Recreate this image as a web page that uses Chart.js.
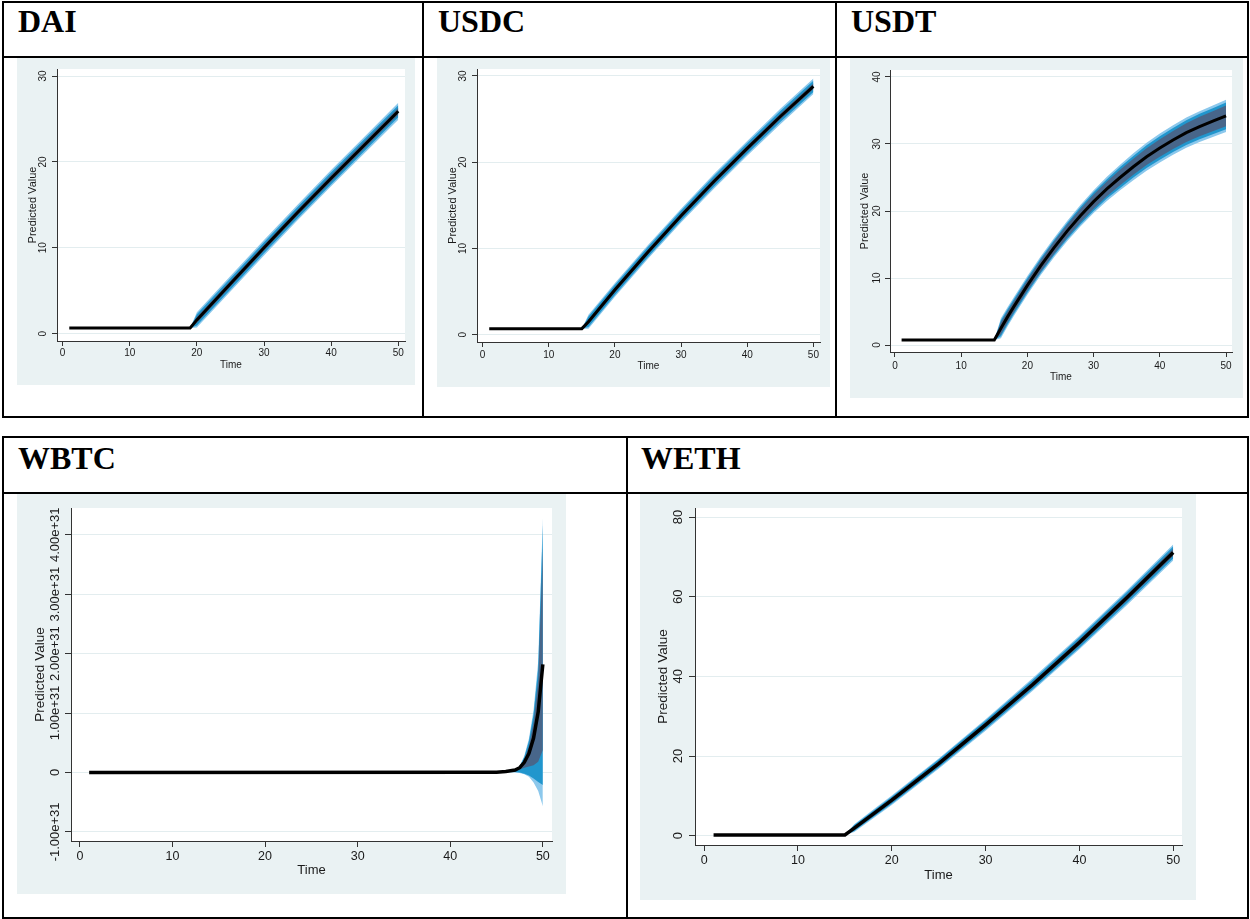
<!DOCTYPE html>
<html>
<head>
<meta charset="utf-8">
<script src="https://cdn.jsdelivr.net/npm/chart.js@4.4.0/dist/chart.umd.min.js"></script>
<style>
  body { margin: 0; width: 1250px; height: 919px; position: relative; overflow: hidden; background: #fff; }
  .rule { position: absolute; background: #000; }
  .head { position: absolute; font-family: "Liberation Serif", "Times New Roman", serif; font-weight: bold; font-size: 32px; line-height: 32px; color: #000; }
  .graph { position: absolute; background: #eaf2f3; }
  .graph canvas { display: block; }
</style>
</head>
<body>
<!-- top table -->
<div class="rule" style="left:2px;top:1px;width:1247px;height:2px"></div>
<div class="rule" style="left:2px;top:56px;width:1247px;height:2px"></div>
<div class="rule" style="left:2px;top:416px;width:1247px;height:2px"></div>
<div class="rule" style="left:2px;top:1px;width:2px;height:417px"></div>
<div class="rule" style="left:422px;top:1px;width:2px;height:417px"></div>
<div class="rule" style="left:835px;top:1px;width:2px;height:417px"></div>
<div class="rule" style="left:1247px;top:1px;width:2px;height:417px"></div>
<div class="head" style="left:18px;top:5px">DAI</div>
<div class="head" style="left:438px;top:5px">USDC</div>
<div class="head" style="left:851px;top:5px">USDT</div>
<!-- bottom table -->
<div class="rule" style="left:2px;top:436px;width:1247px;height:2px"></div>
<div class="rule" style="left:2px;top:492px;width:1247px;height:2px"></div>
<div class="rule" style="left:2px;top:917px;width:1247px;height:2px"></div>
<div class="rule" style="left:2px;top:436px;width:2px;height:483px"></div>
<div class="rule" style="left:626px;top:436px;width:2px;height:483px"></div>
<div class="rule" style="left:1247px;top:436px;width:2px;height:483px"></div>
<div class="head" style="left:18px;top:442px">WBTC</div>
<div class="head" style="left:641px;top:442px">WETH</div>

<div id="graphs"></div>

<script>
// ---- data ----
const xTicks = [0, 10, 20, 30, 40, 50];

const daiTime  = [1, 19, 20, 25, 30, 35, 40, 45, 50];
const daiMean  = [0.66, 0.66, 1.6, 5.8, 10.0, 14.1, 18.1, 22.0, 25.9];
const daiOuter = [0, 0, 0.9, 0.9, 0.9, 0.9, 0.95, 0.95, 1.0];
const daiMid   = [0, 0, 0.65, 0.65, 0.65, 0.65, 0.7, 0.7, 0.7];
const daiInner = [0, 0, 0.35, 0.35, 0.35, 0.35, 0.4, 0.4, 0.4];
const daiYTicks = [0, 10, 20, 30];

const usdcTime  = [1, 15, 16, 20, 25, 30, 35, 40, 45, 50];
const usdcMean  = [0.7, 0.7, 1.5, 5.2, 9.6, 13.8, 17.8, 21.6, 25.3, 28.8];
const usdcOuter = [0, 0, 0.8, 0.8, 0.8, 0.8, 0.85, 0.85, 0.9, 0.9];
const usdcMid   = [0, 0, 0.6, 0.6, 0.6, 0.6, 0.62, 0.62, 0.65, 0.65];
const usdcInner = [0, 0, 0.3, 0.3, 0.3, 0.3, 0.33, 0.33, 0.35, 0.35];
const usdcYTicks = [0, 10, 20, 30];

const usdtTime  = [1, 15, 16, 17, 18, 20, 22, 24, 26, 28, 30, 32, 34, 36, 38, 40, 42, 44, 46, 48, 50];
const usdtMean  = [0.75, 0.75, 2.5, 4.2, 5.8, 8.9, 11.8, 14.5, 17.0, 19.3, 21.4, 23.3, 25.0, 26.6, 28.1, 29.4, 30.6, 31.7, 32.6, 33.4, 34.2];
const usdtOuter = [0, 0, 1.5, 1.45, 1.4, 1.4, 1.4, 1.45, 1.5, 1.6, 1.7, 1.8, 1.9, 2.0, 2.1, 2.15, 2.2, 2.25, 2.3, 2.35, 2.4];
const usdtMid   = [0, 0, 1.2, 1.15, 1.1, 1.1, 1.1, 1.15, 1.2, 1.3, 1.4, 1.45, 1.55, 1.6, 1.7, 1.75, 1.8, 1.85, 1.9, 1.95, 2.0];
const usdtInner = [0, 0, 0.9, 0.85, 0.8, 0.8, 0.85, 0.9, 0.95, 1.0, 1.05, 1.1, 1.15, 1.2, 1.25, 1.3, 1.35, 1.4, 1.45, 1.5, 1.55];
const usdtYTicks = [0, 10, 20, 30, 40];

const wbtcTime    = [1, 44, 45, 46, 47, 47.5, 48, 48.5, 49, 49.5, 50];
const wbtcMean    = [0, 0.002e31, 0.005e31, 0.015e31, 0.04e31, 0.08e31, 0.17e31, 0.32e31, 0.58e31, 1.02e31, 1.82e31];
const wbtcOuterHi = [0, 0.003e31, 0.008e31, 0.025e31, 0.06e31, 0.11e31, 0.28e31, 0.57e31, 1.05e31, 1.87e31, 4.29e31];
const wbtcOuterLo = [0, 0.001e31, 0.002e31, 0.003e31, 0, -0.01e31, -0.03e31, -0.07e31, -0.17e31, -0.31e31, -0.57e31];
const wbtcMidHi   = [0, 0.003e31, 0.007e31, 0.023e31, 0.055e31, 0.1e31, 0.26e31, 0.53e31, 0.98e31, 1.75e31, 4.17e31];
const wbtcMidLo   = [0, 0.001e31, 0.003e31, 0.006e31, 0.01e31, 0, -0.02e31, -0.05e31, -0.1e31, -0.16e31, -0.21e31];
const wbtcInnerHi = [0, 0.003e31, 0.006e31, 0.02e31, 0.05e31, 0.09e31, 0.22e31, 0.45e31, 0.85e31, 1.55e31, 3.78e31];
const wbtcInnerLo = [0, 0.001e31, 0.004e31, 0.01e31, 0.03e31, 0.05e31, 0.08e31, 0.1e31, 0.12e31, 0.18e31, 0.38e31];
const wbtcYTicks  = [-1e31, 0, 1e31, 2e31, 3e31, 4e31];

const wethTime  = [1, 15, 16, 18, 20, 25, 30, 35, 40, 45, 50];
const wethMean  = [0.2, 0.2, 1.9, 5.4, 8.9, 18.1, 27.8, 37.9, 48.5, 59.6, 71.1];
const wethOuter = [0, 0, 1.0, 1.1, 1.2, 1.3, 1.45, 1.6, 1.7, 1.85, 2.0];
const wethMid   = [0, 0, 0.75, 0.8, 0.9, 1.0, 1.1, 1.2, 1.3, 1.4, 1.5];
const wethInner = [0, 0, 0.45, 0.5, 0.55, 0.6, 0.65, 0.7, 0.75, 0.8, 0.9];
const wethYTicks = [0, 20, 40, 60, 80];

// ---- styling ----
const FONT = '"Liberation Sans", Arial, Helvetica, sans-serif';
const AXIS = '#333';
const GRID = '#e3edef';
const TEXT = '#1a1a1a';
const bandColors = ['#48668a', '#2196cd', '#8cc8ec']; // inner, mid, outer

function spread(mean, half) {
  return { lo: mean.map((m, i) => m - half[i]), hi: mean.map((m, i) => m + half[i]) };
}

const panels = [
  { time: daiTime, mean: daiMean, yTicks: daiYTicks, fmt: 'plain',
    bands: [spread(daiMean, daiInner), spread(daiMean, daiMid), spread(daiMean, daiOuter)],
    box: [17, 58, 415, 385], plot: [57, 69, 405, 341], xr: [-0.83, 51.0], yr: [-0.86, 30.82],
    big: false, yLabGap: 13.7, yTitlePad: 9.7, xLabPad: 1.5, xTitlePad: 14 },
  { time: usdcTime, mean: usdcMean, yTicks: usdcYTicks, fmt: 'plain',
    bands: [spread(usdcMean, usdcInner), spread(usdcMean, usdcMid), spread(usdcMean, usdcOuter)],
    box: [437, 58, 830, 387], plot: [477, 69, 820, 342], xr: [-0.85, 51.0], yr: [-0.85, 30.81],
    big: false, yLabGap: 13.4, yTitlePad: 9.7, xLabPad: 2.7, xTitlePad: 14.6 },
  { time: usdtTime, mean: usdtMean, yTicks: usdtYTicks, fmt: 'plain',
    bands: [spread(usdtMean, usdtInner), spread(usdtMean, usdtMid), spread(usdtMean, usdtOuter)],
    box: [850, 58, 1243, 398], plot: [890, 70, 1232, 352], xr: [-0.75, 50.9], yr: [-1.04, 41.04],
    big: false, yLabGap: 12.7, yTitlePad: 8.8, xLabPad: 3, xTitlePad: 14.6 },
  { time: wbtcTime, mean: wbtcMean, yTicks: wbtcYTicks, fmt: 'exp',
    bands: [{ lo: wbtcInnerLo, hi: wbtcInnerHi }, { lo: wbtcMidLo, hi: wbtcMidHi }, { lo: wbtcOuterLo, hi: wbtcOuterHi }],
    box: [17, 494, 566, 894], plot: [71, 508, 552, 841], xr: [-0.96, 50.99], yr: [-1.153e31, 4.45e31],
    big: true, yLabGap: 15.5, yTitlePad: 15.1, xLabPad: 2, xTitlePad: 15.8 },
  { time: wethTime, mean: wethMean, yTicks: wethYTicks, fmt: 'plain',
    bands: [spread(wethMean, wethInner), spread(wethMean, wethMid), spread(wethMean, wethOuter)],
    box: [640, 494, 1196, 900], plot: [695, 508, 1182, 845], xr: [-0.98, 50.94], yr: [-2.34, 82.26],
    big: true, yLabGap: 16.7, yTitlePad: 14.7, xLabPad: 2, xTitlePad: 17.2 }
];

const plotBackground = {
  id: 'plotBackground',
  beforeDraw(chart) {
    const { ctx, chartArea: a } = chart;
    ctx.save();
    ctx.fillStyle = '#fff';
    ctx.fillRect(a.left, a.top, a.right - a.left, a.bottom - a.top);
    ctx.restore();
  }
};

// Stata writes the y labels turned on their side
const uprightTicks = {
  id: 'uprightTicks',
  afterDraw(chart, args, opts) {
    const s = chart.scales.y;
    const ctx = chart.ctx;
    ctx.save();
    ctx.font = opts.size + 'px ' + FONT;
    ctx.fillStyle = TEXT;
    ctx.textAlign = 'center';
    ctx.textBaseline = 'middle';
    s.ticks.forEach(t => {
      const label = opts.fmt === 'exp' && t.value !== 0 ? t.value.toExponential(2) : String(t.value);
      ctx.save();
      ctx.translate(s.right - opts.gap, s.getPixelForValue(t.value));
      ctx.rotate(-Math.PI / 2);
      ctx.fillText(label, 0, 0);
      ctx.restore();
    });
    ctx.restore();
  }
};

const holder = document.getElementById('graphs');

panels.forEach(p => {
  const [bl, bt, br, bb] = p.box;
  const [pl, pt, pr, pb] = p.plot;
  const div = document.createElement('div');
  div.className = 'graph';
  div.style.left = bl + 'px';
  div.style.top = bt + 'px';
  div.style.width = (br - bl) + 'px';
  div.style.height = (bb - bt) + 'px';
  const canvas = document.createElement('canvas');
  canvas.width = br - bl;
  canvas.height = bb - bt;
  div.appendChild(canvas);
  holder.appendChild(div);

  const tickSize = p.big ? 13 : 10;
  const xTickSize = p.big ? 12.5 : 10;
  const xTitleSize = p.big ? 13 : 10;
  const yTitleSize = p.big ? 13.5 : 11;
  const tickLen = p.big ? 6 : 5;

  const pts = arr => p.time.map((t, i) => ({ x: t, y: arr[i] }));
  const datasets = [{
    data: pts(p.mean), borderColor: '#000', borderWidth: p.big ? 3.5 : 3,
    pointRadius: 0, fill: false, tension: 0
  }];
  p.bands.forEach((b, k) => {
    const loIndex = datasets.length + 1;
    datasets.push({ data: pts(b.hi), borderColor: 'rgba(0,0,0,0)', borderWidth: 0, pointRadius: 0,
      backgroundColor: bandColors[k], fill: loIndex, tension: 0 });
    datasets.push({ data: pts(b.lo), borderColor: 'rgba(0,0,0,0)', borderWidth: 0, pointRadius: 0,
      fill: false, tension: 0 });
  });

  new Chart(canvas, {
    type: 'line',
    data: { datasets },
    options: {
      responsive: false,
      animation: false,
      events: [],
      layout: { padding: { left: 0, top: pt - bt, right: br - pr, bottom: 0 } },
      plugins: {
        legend: { display: false },
        tooltip: { enabled: false },
        uprightTicks: { size: tickSize, gap: p.yLabGap, fmt: p.fmt }
      },
      scales: {
        x: {
          type: 'linear', min: p.xr[0], max: p.xr[1],
          afterBuildTicks: s => { s.ticks = xTicks.map(v => ({ value: v })); },
          afterFit: s => { s.height = bb - pb; },
          grid: { drawOnChartArea: false, drawTicks: true, tickLength: tickLen, tickColor: AXIS, tickWidth: 1 },
          border: { display: true, color: AXIS, width: 1 },
          ticks: { autoSkip: false, maxRotation: 0, padding: p.xLabPad, color: TEXT,
            font: { family: FONT, size: xTickSize }, callback: v => String(v) },
          title: { display: true, text: 'Time', color: TEXT, font: { family: FONT, size: xTitleSize },
            padding: { top: 0, bottom: p.xTitlePad } }
        },
        y: {
          type: 'linear', min: p.yr[0], max: p.yr[1],
          afterBuildTicks: s => { s.ticks = p.yTicks.map(v => ({ value: v })); },
          afterFit: s => { s.width = pl - bl; },
          grid: { color: GRID, lineWidth: 1, drawTicks: true, tickLength: tickLen, tickColor: AXIS, tickWidth: 1 },
          border: { display: true, color: AXIS, width: 1 },
          ticks: { display: false },
          title: { display: true, text: 'Predicted Value', color: TEXT, font: { family: FONT, size: yTitleSize },
            padding: { top: p.yTitlePad, bottom: 0 } }
        }
      }
    },
    plugins: [plotBackground, uprightTicks]
  });
});
</script>
</body>
</html>
